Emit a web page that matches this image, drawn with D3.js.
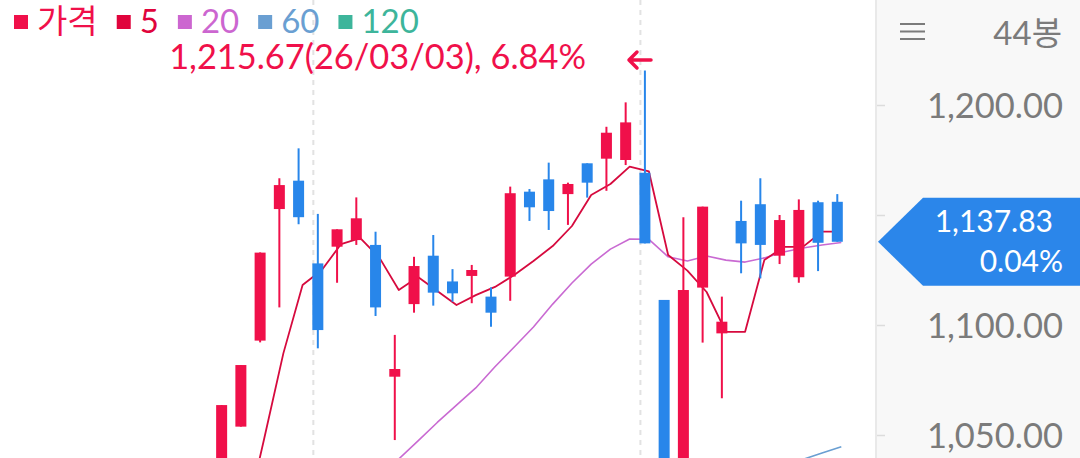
<!DOCTYPE html>
<html><head><meta charset="utf-8">
<script src="https://cdn.jsdelivr.net/npm/d3@7"></script>
<style>
html,body{margin:0;padding:0;background:#fff;overflow:hidden;}
svg{display:block;font-family:Lato,"Noto Sans CJK KR",sans-serif;}
</style>
</head><body>
<svg id="chart" width="1080" height="458"></svg>
<script>
// ---- data (null = outside the visible window) ----
const dates = ["26/01/09","26/01/12","26/01/13","26/01/14","26/01/15","26/01/16","26/01/19","26/01/20","26/01/21","26/01/22","26/01/23",
  "26/01/26","26/01/27","26/01/28","26/01/29","26/01/30",
  "26/02/02","26/02/03","26/02/04","26/02/05","26/02/06","26/02/09","26/02/10","26/02/11","26/02/12","26/02/13",
  "26/02/19","26/02/20","26/02/23","26/02/24","26/02/25","26/02/26","26/02/27",
  "26/03/03","26/03/04","26/03/05","26/03/06","26/03/09","26/03/10","26/03/11","26/03/12","26/03/13","26/03/16","26/03/17"];
const N = null;
const openV  = [N,N,N,N,N,N,N,N,N,N,N, 1025,1053.8,1092.9,1152.7,1165.6, 1128.0,1135.6,1138.6,1136.4,1076.5,1109.5,1131.5,1119.8,1122.3,1112.9,1122.0,1160.6,1166.2,1159.5,1173.5,1175.6,1175.0, 1169.2,1111.4,985,1117.0,1096.2,1147.3,1154.9,1131.5,1121.7,1155.8,1156.0];
const highV  = [N,N,N,N,N,N,N,N,N,N,N, 1063.6,1081.8,1133.0,1166.7,1180.3, 1150.5,1143.5,1158.0,1142.4,1095.5,1131.0,1140.9,1125.4,1127.3,1117.1,1162.9,1161.8,1173.8,1164.7,1173.5,1190.1,1201.2, 1215.67,1111.4,1149.0,1153.8,1112.9,1156.5,1166.7,1150.0,1157.1,1156.5,1159.5];
const lowV   = [N,N,N,N,N,N,N,N,N,N,N, 1020,1053.8,1092.1,1108.0,1145.8, 1089.4,1119.2,1136.4,1104.1,1047.7,1105.6,1108.8,1110.6,1109.9,1099.2,1111.0,1147.3,1143.2,1145.5,1157.9,1161.0,1172.7, 1137.1,975,980,1092.0,1066.7,1123.5,1121.2,1127.7,1119.2,1124.5,1137.83];
const closeV = [N,N,N,N,N,N,N,N,N,N,N, 1063.6,1081.8,1132.9,1163.6,1149.0, 1097.7,1143.5,1148.5,1108.0,1080.0,1126.8,1114.7,1114.4,1125.0,1105.6,1159.9,1153.5,1151.8,1164.1,1164.7,1187.4,1192.1, 1137.1,982,1115.9,1153.8,1101.5,1137.1,1136.4,1147.7,1152.3,1137.37,1137.83];
const ma5  = [N,N,N,N,N,N,N,N,N,N,N,N, 1010,1048.2,1087.1,1118.2,1125.0,1136.8,1139.5,1130.5,1115.9,1121.8,1115.5,1109.1,1113.6,1117.3,1122.7,1129.1,1135.9,1145.0,1159.1,1164.1,1172.0,1169.8,1131.8,1124.7,1115.0,1096.9,1096.9,1129.5,1135.5,1135.5,1142.4,1142.4];
const ma20 = [N,N,N,N,N,N,N,N,N,N,N,N,N,N,N,N,N,N,N, 1030.5,1039.1,1047.3,1055.7,1063.6,1071.4,1081.0,1090.0,1099.1,1109.5,1119.1,1127.7,1134.5,1139.1,1138.9,1131.0,1129.1,1131.4,1129.5,1128.6,1130.5,1133.2,1135.0,1136.4,1137.5];
const ma60 = [N,N,N,N,N,N,N,N,N,N,N,N,N,N,N,N,N,N,N,N,N,N,N,N,N,N,N,N,N,N,N,N,N,N,N,N,N,N,N,N, 1035.9,1038.9,1041.8,1044.7];
const yTicks = [1050, 1100, 1150, 1200];
const legendNames = ["가격", "5", "20", "60", "120"];
const legendColors = ["#f0104a", "#e0043c", "#cc66d0", "#6a9fd2", "#3db59b"];
const lastPrice = 1137.83, lastChange = "0.04%";
const maxHigh = 1215.67, maxDate = "26/03/03", maxPct = "6.84%";
const barCount = "44봉";

// ---- layout ----
const W = 1080, H = 458, plotR = 876;
const svg = d3.select("#chart");
const x = d3.scalePoint().domain(dates).range([10, 837.3]);
const y = d3.scaleLinear().domain([1050, 1200]).range([435, 105]);
const UP = "#f0104a", DOWN = "#2886ea";

svg.append("defs").append("clipPath").attr("id", "plotclip")
  .append("rect").attr("x", 0).attr("y", 0).attr("width", plotR).attr("height", H);

const plot = svg.append("g").attr("clip-path", "url(#plotclip)");

// month separators
const monthStarts = dates.filter((d, i) => i > 0 && d.slice(3, 5) !== dates[i - 1].slice(3, 5));
plot.selectAll("line.sep").data(monthStarts).join("line")
  .attr("x1", d => x(d) - 4.5).attr("x2", d => x(d) - 4.5)
  .attr("y1", 0).attr("y2", H)
  .attr("stroke", "#e2e2e2").attr("stroke-width", 2).attr("stroke-dasharray", "5,5");

// moving averages
function maLine(arr, color, w) {
  const line = d3.line()
    .defined(d => d.v != null)
    .x(d => x(d.d) + 4).y(d => y(d.v));
  plot.append("path")
    .datum(dates.map((d, i) => ({ d, v: arr[i] })))
    .attr("d", line).attr("fill", "none")
    .attr("stroke", color).attr("stroke-width", w).attr("stroke-linejoin", "round");
}
maLine(ma60, "#6a9fd2", 1.6);
maLine(ma20, "#c96ad2", 1.6);
maLine(ma5, "#d60a3e", 1.8);

// candles
const candles = dates.map((d, i) => ({ d, o: openV[i], h: highV[i], l: lowV[i], c: closeV[i] }))
  .filter(k => k.o != null);
const cg = plot.selectAll("g.candle").data(candles).join("g").attr("class", "candle");
cg.append("line")
  .attr("x1", k => x(k.d)).attr("x2", k => x(k.d))
  .attr("y1", k => y(k.h)).attr("y2", k => y(k.l))
  .attr("stroke", k => k.c >= k.o ? UP : DOWN).attr("stroke-width", 2);
cg.append("rect")
  .attr("x", k => x(k.d) - 5.5).attr("width", 11)
  .attr("y", k => y(Math.max(k.o, k.c)))
  .attr("height", k => Math.max(1.5, Math.abs(y(k.o) - y(k.c))))
  .attr("fill", k => k.c >= k.o ? UP : DOWN);

// price axis panel
svg.append("rect").attr("x", plotR).attr("y", 0).attr("width", W - plotR).attr("height", H).attr("fill", "#f8f8f8");
svg.append("line").attr("x1", plotR).attr("x2", plotR).attr("y1", 0).attr("y2", H)
  .attr("stroke", "#e9e9e9").attr("stroke-width", 2);

const ly = y(lastPrice);
const fmt = d3.format(",.2f");
const axis = svg.append("g").attr("transform", `translate(${plotR + 1},0)`)
  .call(d3.axisRight(y).tickValues(yTicks).tickFormat(fmt).tickSize(8).tickPadding(0));
axis.select(".domain").remove();
axis.selectAll(".tick line").attr("stroke", "#dcdcdc").attr("stroke-width", 1.5);
axis.selectAll(".tick text")
  .attr("x", 1063 - plotR - 1).attr("text-anchor", "end").attr("dy", "0.35em")
  .attr("fill", "#7b7b7b").style("font-size", "34.5px").style("font-family", "Lato, sans-serif")
  .style("display", d => Math.abs(y(d) - ly) < 46 ? "none" : null);   // covered by the price tag

// hamburger + bar count
const hb = svg.append("g").attr("stroke", "#7b7b7b").attr("stroke-width", 2);
[24, 31.5, 39].forEach(v => hb.append("line").attr("x1", 900).attr("x2", 925).attr("y1", v).attr("y2", v));
svg.append("text").attr("x", 1062).attr("y", 45).attr("text-anchor", "end")
  .attr("fill", "#7b7b7b").style("font-size", "33px").text(barCount);

// last price tag
svg.append("path")
  .attr("d", `M878,${ly} L923,${ly - 44} L${W},${ly - 44} L${W},${ly + 44} L923,${ly + 44} Z`)
  .attr("fill", "#2b86ea");
svg.append("text").attr("x", 1053).attr("y", ly - 20).attr("dy", "0.35em").attr("text-anchor", "end")
  .attr("fill", "#fff").style("font-size", "30px").text(fmt(lastPrice));
svg.append("text").attr("x", 1063).attr("y", ly + 20).attr("dy", "0.35em").attr("text-anchor", "end")
  .attr("fill", "#fff").style("font-size", "30px").text(lastChange);

// legend
let lx = 14;
legendNames.forEach((name, i) => {
  svg.append("rect").attr("x", lx).attr("y", 15).attr("width", 14).attr("height", 14).attr("fill", legendColors[i]);
  const t = svg.append("text").attr("x", lx + 23).attr("y", 33).attr("fill", legendColors[i])
    .style("font-size", "33px").text(name);
  lx += 23 + t.node().getComputedTextLength() + 19;
});

// max label + arrow
svg.append("text").attr("x", 586).attr("y", 69).attr("text-anchor", "end")
  .attr("fill", "#f0104a").style("font-size", "34.4px")
  .text(`${fmt(maxHigh)}(${maxDate}), ${maxPct}`);
svg.append("path").attr("d", "M651,60 L629,60 M637,52 L629,60 L637,68")
  .attr("fill", "none").attr("stroke", "#f0104a").attr("stroke-width", 3.5)
  .attr("stroke-linecap", "round").attr("stroke-linejoin", "round");
</script>
</body></html>
